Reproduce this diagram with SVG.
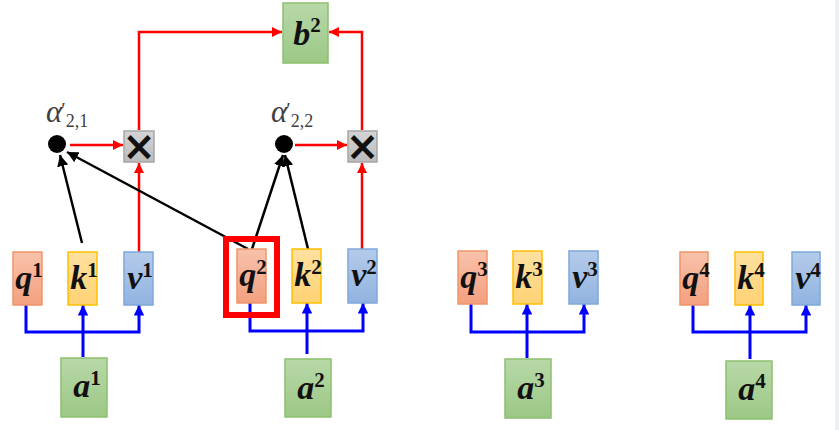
<svg xmlns="http://www.w3.org/2000/svg" width="839" height="430" viewBox="0 0 839 430">
<style>
.q{fill:url(#gq);stroke:#f0956a;stroke-width:1.5}
.k{fill:url(#gk);stroke:#ffc000;stroke-width:1.5}
.v{fill:url(#gv);stroke:#7ea8dc;stroke-width:1.5}
.a{fill:url(#ga);stroke:#8cc06e;stroke-width:1.5}
.x{fill:url(#gx);stroke:#a6a6a6;stroke-width:1.5}
.lbl{font-family:"Liberation Serif",serif;font-weight:bold;fill:#111;text-anchor:middle}
.m{font-style:italic;font-size:34px}
.s{font-size:21px;font-style:normal}
.al{font-family:"Liberation Serif",serif;fill:#404040}
.ai{font-style:italic;font-size:31px}
.ap{font-style:normal;font-size:20px}
.as{font-style:normal;font-size:18px}
.red{fill:none;stroke:#ff0000;stroke-width:2.5}
.blk{fill:none;stroke:#000;stroke-width:2.5}
.blu{fill:none;stroke:#0000ff;stroke-width:3}
.mul{font-family:"DejaVu Sans",sans-serif;font-size:40px;font-weight:bold;fill:#111;text-anchor:middle}
</style>
<defs>
<linearGradient id="gq" x1="0" y1="0" x2="0" y2="1"><stop offset="0" stop-color="#f8c2ab"/><stop offset="1" stop-color="#f3a07f"/></linearGradient>
<linearGradient id="gk" x1="0" y1="0" x2="0" y2="1"><stop offset="0" stop-color="#ffe1a0"/><stop offset="1" stop-color="#ffd274"/></linearGradient>
<linearGradient id="gv" x1="0" y1="0" x2="0" y2="1"><stop offset="0" stop-color="#b4cbea"/><stop offset="1" stop-color="#92b3e0"/></linearGradient>
<linearGradient id="ga" x1="0" y1="0" x2="0" y2="1"><stop offset="0" stop-color="#b8d8a8"/><stop offset="1" stop-color="#9cc886"/></linearGradient>
<linearGradient id="gx" x1="0" y1="0" x2="0" y2="1"><stop offset="0" stop-color="#d4d4d4"/><stop offset="1" stop-color="#bcbcbc"/></linearGradient>
<marker id="mr" viewBox="0 0 10 10" refX="10" refY="5" markerWidth="4" markerHeight="4" orient="auto" markerUnits="strokeWidth"><path d="M0,0 L10,5 L0,10 Z" fill="#ff0000"/></marker>
<marker id="mb" viewBox="0 0 10 10" refX="10" refY="5" markerWidth="3.5" markerHeight="3.5" orient="auto" markerUnits="strokeWidth"><path d="M0,0 L10,5 L0,10 Z" fill="#0000ff"/></marker>
<marker id="mk" viewBox="0 0 10 10" refX="10" refY="5" markerWidth="4.5" markerHeight="4.5" orient="auto" markerUnits="strokeWidth"><path d="M0,0 L10,5 L0,10 Z" fill="#000"/></marker>
</defs>
<rect x="0" y="0" width="839" height="430" fill="#ffffff"/>
<rect x="835" y="0" width="4" height="430" fill="#eef0f3"/>

<g id="connectors">
<path class="red" d="M139,252 V163" marker-end="url(#mr)"/>
<path class="red" d="M139,130 V32 H282" marker-end="url(#mr)"/>
<path class="red" d="M362,130 V32 H329" marker-end="url(#mr)"/>
<path class="red" d="M70,145 H123" marker-end="url(#mr)"/>
<path class="red" d="M295,145 H347" marker-end="url(#mr)"/>
<path class="red" d="M362,249 V163" marker-end="url(#mr)"/>
<path class="blk" d="M82,243 L60,155" marker-end="url(#mk)"/>
<path class="blk" d="M248,249 L67,152" marker-end="url(#mk)"/>
<path class="blk" d="M252,249 L283,155" marker-end="url(#mk)"/>
<path class="blk" d="M308,249 L285,155" marker-end="url(#mk)"/>
<path class="blu" d="M26,305 V332 H139 V305" marker-start="url(#mb)" marker-end="url(#mb)"/>
<path class="blu" d="M83,357 V305" marker-end="url(#mb)"/>
<path class="blu" d="M250,303 V331 H363 V303" marker-start="url(#mb)" marker-end="url(#mb)"/>
<path class="blu" d="M307,354 V303" marker-end="url(#mb)"/>
<path class="blu" d="M471,304 V332 H584 V304" marker-start="url(#mb)" marker-end="url(#mb)"/>
<path class="blu" d="M527,358 V304" marker-end="url(#mb)"/>
<path class="blu" d="M693,305 V332 H806 V305" marker-start="url(#mb)" marker-end="url(#mb)"/>
<path class="blu" d="M750,359 V305" marker-end="url(#mb)"/>
</g>

<g id="b2"><rect class="a" x="283" y="3" width="45" height="60"/><text class="lbl" x="307" y="45"><tspan class="m">b</tspan><tspan class="s" dy="-13">2</tspan></text></g>

<g id="mul1"><rect class="x" x="124" y="131" width="30" height="31"/><text class="mul" x="139" y="160">×</text></g>
<g id="mul2"><rect class="x" x="348" y="131" width="29" height="31"/><text class="mul" x="362.5" y="160">×</text></g>

<g id="alpha21"><circle cx="57" cy="144" r="9" fill="#000"/><text class="al" x="46" y="122"><tspan class="ai">α</tspan><tspan class="ap" dx="-1" dy="-5">′</tspan><tspan class="as" dy="10">2,1</tspan></text></g>
<g id="alpha22"><circle cx="284" cy="144" r="9" fill="#000"/><text class="al" x="271" y="122"><tspan class="ai">α</tspan><tspan class="ap" dx="-1" dy="-5">′</tspan><tspan class="as" dy="10">2,2</tspan></text></g>

<g id="q1"><rect class="q" x="13" y="252" width="29" height="53"/><text class="lbl" x="29" y="289"><tspan class="m">q</tspan><tspan class="s" dy="-12">1</tspan></text></g>
<g id="k1"><rect class="k" x="68" y="252" width="29" height="53"/><text class="lbl" x="84" y="289"><tspan class="m">k</tspan><tspan class="s" dy="-12">1</tspan></text></g>
<g id="v1"><rect class="v" x="124" y="252" width="29" height="53"/><text class="lbl" x="140" y="289"><tspan class="m">v</tspan><tspan class="s" dy="-12">1</tspan></text></g>

<g id="q2"><rect class="q" x="237" y="249" width="29" height="54"/><rect x="226" y="239" width="51" height="76" fill="none" stroke="#ff0000" stroke-width="6"/><text class="lbl" x="253" y="286"><tspan class="m">q</tspan><tspan class="s" dy="-12">2</tspan></text></g>
<g id="k2"><rect class="k" x="292" y="249" width="29" height="54"/><text class="lbl" x="308" y="286"><tspan class="m">k</tspan><tspan class="s" dy="-12">2</tspan></text></g>
<g id="v2"><rect class="v" x="348" y="249" width="29" height="54"/><text class="lbl" x="364" y="286"><tspan class="m">v</tspan><tspan class="s" dy="-12">2</tspan></text></g>

<g id="q3"><rect class="q" x="458" y="251" width="29" height="53"/><text class="lbl" x="474" y="288"><tspan class="m">q</tspan><tspan class="s" dy="-12">3</tspan></text></g>
<g id="k3"><rect class="k" x="513" y="251" width="29" height="53"/><text class="lbl" x="529" y="288"><tspan class="m">k</tspan><tspan class="s" dy="-12">3</tspan></text></g>
<g id="v3"><rect class="v" x="569" y="251" width="29" height="53"/><text class="lbl" x="585" y="288"><tspan class="m">v</tspan><tspan class="s" dy="-12">3</tspan></text></g>

<g id="q4"><rect class="q" x="680" y="252" width="28" height="53"/><text class="lbl" x="696" y="289"><tspan class="m">q</tspan><tspan class="s" dy="-12">4</tspan></text></g>
<g id="k4"><rect class="k" x="735" y="252" width="28" height="53"/><text class="lbl" x="751" y="289"><tspan class="m">k</tspan><tspan class="s" dy="-12">4</tspan></text></g>
<g id="v4"><rect class="v" x="792" y="252" width="28" height="53"/><text class="lbl" x="808" y="289"><tspan class="m">v</tspan><tspan class="s" dy="-12">4</tspan></text></g>

<g id="a1"><rect class="a" x="61" y="358" width="46" height="59"/><text class="lbl" x="87" y="397"><tspan class="m">a</tspan><tspan class="s" dy="-12">1</tspan></text></g>
<g id="a2"><rect class="a" x="285" y="359" width="46" height="58"/><text class="lbl" x="311" y="399"><tspan class="m">a</tspan><tspan class="s" dy="-12">2</tspan></text></g>
<g id="a3"><rect class="a" x="505" y="359" width="46" height="59"/><text class="lbl" x="531" y="399"><tspan class="m">a</tspan><tspan class="s" dy="-12">3</tspan></text></g>
<g id="a4"><rect class="a" x="726" y="361" width="46" height="58"/><text class="lbl" x="752" y="400"><tspan class="m">a</tspan><tspan class="s" dy="-12">4</tspan></text></g>
</svg>
